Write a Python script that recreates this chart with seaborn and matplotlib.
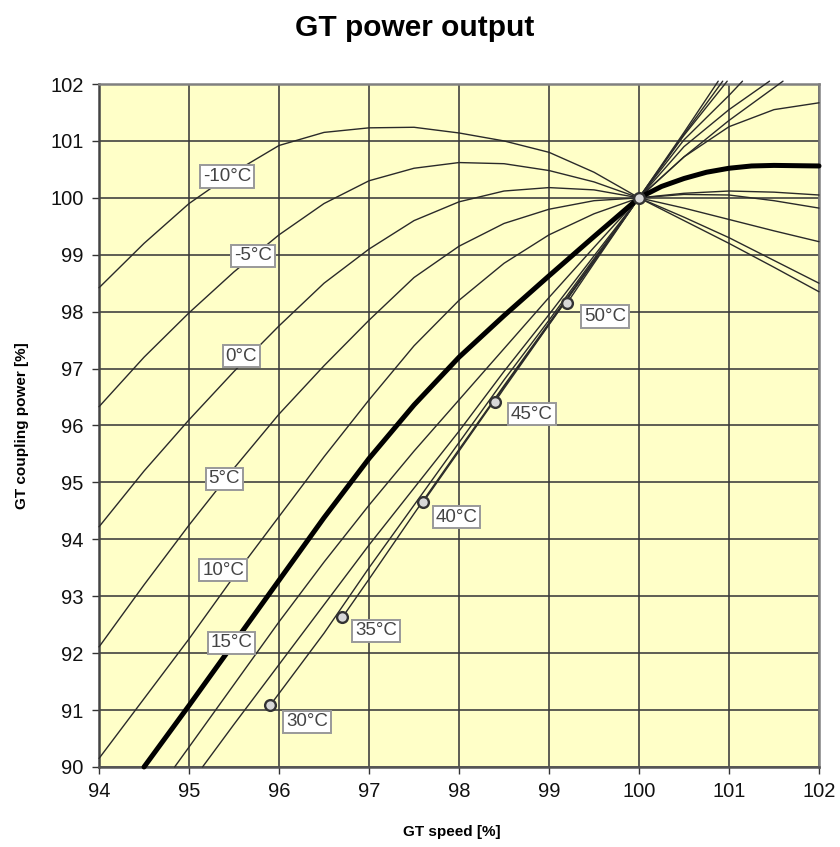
import matplotlib
matplotlib.use("Agg")
import matplotlib.pyplot as plt
import seaborn as sns
import pandas as pd

# curves of GT coupling power vs GT speed, one per ambient temperature
x_m10 = [94, 94.5, 95, 95.5, 96, 96.5, 97, 97.5, 98, 98.5, 99, 99.5, 100, 100.5, 101, 101.5, 102]
y_m10 = [98.42, 99.2, 99.9, 100.45, 100.92, 101.15, 101.23, 101.24, 101.14, 101.0, 100.8, 100.45, 100.0, 99.6, 99.2, 98.78, 98.35]

x_m5 = [94, 94.5, 95, 95.5, 96, 96.5, 97, 97.5, 98, 98.5, 99, 99.5, 100, 100.5, 101, 101.5, 102]
y_m5 = [96.33, 97.2, 97.98, 98.7, 99.35, 99.9, 100.3, 100.52, 100.62, 100.6, 100.48, 100.28, 100.0, 99.66, 99.3, 98.9, 98.5]

x_0 = [94, 94.5, 95, 95.5, 96, 96.5, 97, 97.5, 98, 98.5, 99, 99.5, 100, 100.5, 101, 101.5, 102]
y_0 = [94.22, 95.2, 96.1, 96.95, 97.75, 98.5, 99.1, 99.6, 99.93, 100.12, 100.18, 100.14, 100.0, 99.82, 99.62, 99.42, 99.23]

x_5 = [94, 94.5, 95, 95.5, 96, 96.5, 97, 97.5, 98, 98.5, 99, 99.5, 100, 100.5, 101, 101.5, 102]
y_5 = [92.11, 93.2, 94.25, 95.25, 96.2, 97.05, 97.85, 98.6, 99.15, 99.55, 99.8, 99.95, 100.0, 100.06, 100.05, 99.95, 99.82]

x_10 = [94, 94.5, 95, 95.5, 96, 96.5, 97, 97.5, 98, 98.5, 99, 99.5, 100, 100.5, 101, 101.5, 102]
y_10 = [90.15, 91.2, 92.25, 93.35, 94.4, 95.45, 96.45, 97.4, 98.2, 98.85, 99.35, 99.72, 100.0, 100.08, 100.12, 100.1, 100.05]

x_15 = [94.5, 95, 95.5, 96, 96.5, 97, 97.5, 98, 98.5, 99, 99.5, 100, 100.25, 100.5, 100.75, 101, 101.25, 101.5, 102]
y_15 = [90.0, 91.08, 92.18, 93.28, 94.38, 95.42, 96.36, 97.2, 97.93, 98.63, 99.32, 100.0, 100.2, 100.34, 100.45, 100.52, 100.56, 100.57, 100.56]

x_20 = [94.84, 95, 95.5, 96, 96.5, 97, 97.5, 98, 98.5, 99, 99.5, 100, 100.5, 101, 101.5, 102]
y_20 = [90.0, 90.35, 91.45, 92.55, 93.6, 94.6, 95.55, 96.45, 97.35, 98.25, 99.13, 100.0, 100.72, 101.25, 101.55, 101.67]

x_25 = [95.15, 95.5, 96, 96.5, 97, 97.5, 98, 98.5, 99, 99.5, 100, 100.5, 101, 101.6]
y_25 = [90.0, 90.75, 91.8, 92.85, 93.9, 94.9, 95.9, 96.95, 97.95, 98.98, 100.0, 100.72, 101.36, 102.05]

x_30 = [95.9, 96.5, 97, 97.5, 98, 98.5, 99, 99.5, 100, 100.5, 101, 101.45]
y_30 = [91.08, 92.35, 93.5, 94.6, 95.7, 96.8, 97.85, 98.93, 100.0, 100.9, 101.55, 102.05]

x_35 = [96.7, 97, 97.5, 98, 98.5, 99, 99.5, 100, 100.5, 101, 101.15]
y_35 = [92.62, 93.3, 94.45, 95.58, 96.7, 97.8, 98.9, 100.0, 101.02, 101.8, 102.05]

x_40 = [97.6, 98, 98.5, 99, 99.5, 100, 100.5, 100.98]
y_40 = [94.65, 95.55, 96.68, 97.78, 98.89, 100.0, 101.1, 102.05]

x_45 = [98.4, 98.5, 99, 99.5, 100, 100.5, 100.93]
y_45 = [96.42, 96.65, 97.77, 98.88, 100.0, 101.12, 102.05]

x_50 = [99.2, 99.5, 100, 100.5, 100.88]
y_50 = [98.15, 98.85, 100.0, 101.15, 102.05]

temps = [-10, -5, 0, 5, 10, 15, 20, 25, 30, 35, 40, 45, 50]
curves_x = [x_m10, x_m5, x_0, x_5, x_10, x_15, x_20, x_25, x_30, x_35, x_40, x_45, x_50]
curves_y = [y_m10, y_m5, y_0, y_5, y_10, y_15, y_20, y_25, y_30, y_35, y_40, y_45, y_50]

# end points of the hot curves and the design point
marker_x = [95.9, 96.7, 97.6, 98.4, 99.2, 100.0]
marker_y = [91.08, 92.64, 94.66, 96.42, 98.16, 100.0]

label_text = ["-10°C", "-5°C", "0°C", "5°C", "10°C", "15°C", "30°C", "35°C", "40°C", "45°C", "50°C"]
label_x = [95.42, 95.71, 95.58, 95.39, 95.38, 95.47, 96.31, 97.08, 97.97, 98.81, 99.62]
label_y = [100.38, 98.98, 97.22, 95.06, 93.46, 92.18, 90.79, 92.39, 94.39, 96.2, 97.92]

rows = []
for t, xs, ys in zip(temps, curves_x, curves_y):
    for i, (a, b) in enumerate(zip(xs, ys)):
        rows.append({"temp": t, "order": i, "speed": a, "power": b})
df = pd.DataFrame(rows)

sns.set_style("ticks")
plt.rcParams["font.family"] = ["Liberation Sans", "DejaVu Sans"]
plt.rcParams["text.color"] = "black"
plt.rcParams["axes.labelcolor"] = "black"
plt.rcParams["xtick.labelcolor"] = "#111111"
plt.rcParams["ytick.labelcolor"] = "#111111"

fig = plt.figure(figsize=(8.4, 8.47), dpi=100)
ax = fig.add_axes([0.1179, 0.0945, 0.8571, 0.8063])
ax.set_facecolor("#ffffc8")

for t in temps:
    sub = df[df["temp"] == t]
    bold = t == 15
    sns.lineplot(data=sub, x="speed", y="power", sort=False, estimator=None,
                 color="black" if bold else "#2a2a2a", lw=3.6 if bold else 1.0,
                 ax=ax, clip_on=False, zorder=4 if bold else 3)

sns.scatterplot(x=marker_x, y=marker_y, ax=ax, s=60, color="#d8d8d8",
                edgecolor="#333333", linewidth=1.7, zorder=6, clip_on=False)

for txt, lx, ly in zip(label_text, label_x, label_y):
    ax.text(lx, ly, txt, ha="center", va="center", fontsize=13.5, color="#444444",
            zorder=7, bbox=dict(boxstyle="square,pad=0.15", fc="white", ec="#999999", lw=1.4))

ax.set_xlim(94, 102)
ax.set_ylim(90, 102)
ax.set_xticks(range(94, 103))
ax.set_yticks(range(90, 103))
ax.grid(True, color="#3a3a3a", lw=1.15, zorder=1)
ax.set_axisbelow(True)
ax.tick_params(axis="both", direction="out", length=5, width=1.0, color="#333333",
               labelsize=14.5, pad=6)
for s in ax.spines.values():
    s.set_color("#808080")
    s.set_linewidth(1.8)
ax.spines["left"].set_color("#444444")
ax.spines["bottom"].set_color("#555555")

ax.set_xlabel("GT speed [%]", fontsize=11, fontweight="bold")
ax.set_ylabel("GT coupling power [%]", fontsize=11, fontweight="bold")
ax.xaxis.set_label_coords(0.49, -0.085)
ax.yaxis.set_label_coords(-0.097, 0.5)
fig.text(0.494, 0.967, "GT power output", ha="center", va="center",
         fontsize=21.5, fontweight="bold")

fig.savefig("out.png", dpi=100)
